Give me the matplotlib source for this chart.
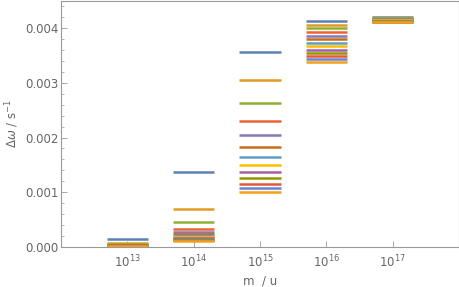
import numpy as np
import matplotlib
matplotlib.use('Agg')
import matplotlib.pyplot as plt
import matplotlib.ticker as mtick


# ______________________ datos ______________________

masas = [1e13, 1e14, 1e15, 1e16, 1e17]

# delta omega (en unidades de 1e-3 s^-1), una lista por masa
dw_1e13 = [0.140, 0.075, 0.050, 0.038, 0.030, 0.025, 0.021, 0.018, 0.016, 0.014, 0.013, 0.012, 0.011]
dw_1e14 = [1.374, 0.696, 0.452, 0.330, 0.270, 0.230, 0.200, 0.172, 0.155, 0.140, 0.125, 0.115, 0.105]
dw_1e15 = [3.566, 3.048, 2.637, 2.308, 2.040, 1.826, 1.643, 1.491, 1.363, 1.253, 1.154, 1.075, 1.002]
dw_1e16 = [4.139, 4.066, 4.000, 3.932, 3.864, 3.799, 3.736, 3.670, 3.608, 3.553, 3.498, 3.443, 3.388]
dw_1e17 = [4.205, 4.196, 4.187, 4.178, 4.169, 4.160, 4.152, 4.144, 4.136, 4.129, 4.122, 4.116, 4.110]

grupos = [dw_1e13, dw_1e14, dw_1e15, dw_1e16, dw_1e17]

colores = ['#5E81B5', '#E19C24', '#8FB032', '#EB6235', '#8778B3', '#C56E1A',
           '#5D9EC7', '#FFBF00', '#A5609D', '#929600', '#E95536', '#6685D9', '#F89F13']

gris = '#666666'

# ______________________ grafica ______________________

fig = plt.figure(figsize=(4.6, 2.87), dpi=100)
ax = fig.add_axes([0.1326, 0.1404, 0.8652, 0.8561])

factor = 10 ** 0.31
for m, vals in zip(masas, grupos):
    for i, v in enumerate(vals):
        ax.hlines(v * 1e-3, m / factor, m * factor, colors=colores[i % len(colores)],
                  linewidth=1.8)

ax.set_xscale('log')
ax.set_xlim(1e12, 1e18)
ax.set_ylim(0, 0.0045)

ax.xaxis.set_major_locator(mtick.FixedLocator(masas))
ax.xaxis.set_major_formatter(mtick.FuncFormatter(lambda x, p: r'$10^{%d}$' % round(np.log10(x))))
ax.xaxis.set_minor_locator(mtick.NullLocator())
ax.yaxis.set_major_locator(mtick.MultipleLocator(0.001))
ax.yaxis.set_minor_locator(mtick.MultipleLocator(0.0002))
ax.yaxis.set_major_formatter(mtick.FormatStrFormatter('%.3f'))

ax.tick_params(axis='both', which='both', direction='in', colors='#999999',
               labelcolor=gris, labelsize=8.5)
ax.tick_params(axis='both', which='major', length=4, width=0.6)
ax.tick_params(axis='both', which='minor', length=2, width=0.5)
ax.tick_params(axis='x', pad=5)
ax.tick_params(axis='y', pad=2)

for s in ax.spines.values():
    s.set_color('#999999')
    s.set_linewidth(0.8)

ax.set_xlabel('m  / u', color=gris, fontsize=8.5, labelpad=3)
ax.set_ylabel(r'$\Delta\omega$ / s$^{-1}$', color=gris, fontsize=8.5, labelpad=3)

fig.savefig('out.png', dpi=100)
